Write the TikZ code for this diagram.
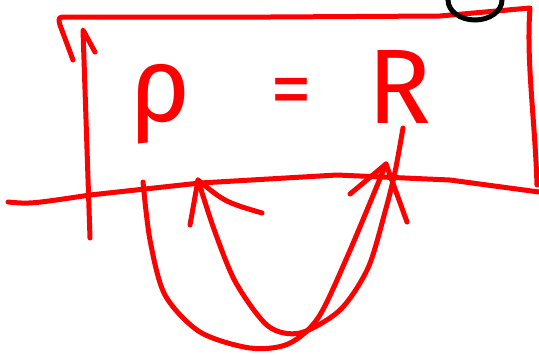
\documentclass[tikz,border=0pt]{standalone}
\usepackage{fontspec}
\setsansfont{Fira Sans}

\begin{document}
\begin{tikzpicture}[
  x=1pt, y=-1pt,
  ink/.style={draw=red, line width=5pt, line cap=round, line join=round},
  every node/.style={text=red, inner sep=0pt, font=\sffamily\fontsize{84}{84}\selectfont},
  big/.style={font=\sffamily\fontsize{106}{106}\selectfont}
]
\clip (0,0) rectangle (539,354);

\node[big] (rho) at (160,104) {ρ};
\node (eq)  at (291,98) {=};
\node[big] (r)   at (400,87) {R};

\coordinate (u1s) at (143,182);
\coordinate (u1e) at (386,164);
\coordinate (u2s) at (403,128);
\coordinate (u2e) at (198,180);

% frame
\draw[ink] (73,60) -- (60,25) .. controls (58,17) .. (68,17) -- (270,17) -- (440,16) -- (530,8)
  .. controls (526,60) and (535,120) .. (537,185);

% left stroke
\draw[ink] (90,238) -- (83,30) -- (95,52);

% ground line
\draw[ink] (8,202) .. controls (30,204) .. (90,195) -- (200,183) -- (337,175) -- (450,180) -- (539,192);

% first loop
\draw[ink] plot[smooth] coordinates {(u1s) (150,240) (165,295) (200,332) (250,348) (288,344) (318,318) (348,255) (u1e)};
\draw[ink] (350,194) -- (u1e) -- (407,222);

% second loop
\draw[ink] plot[smooth] coordinates {(u2s) (395,172) (385,212) (368,268) (340,310) (300,333) (268,326) (236,283) (215,232) (u2e)};
\draw[ink] (190,225) -- (u2e) .. controls (225,202) .. (262,213);

% circle
\draw[black, line width=5pt] (475,0) ellipse [x radius=27, y radius=20];

\end{tikzpicture}
\end{document}
